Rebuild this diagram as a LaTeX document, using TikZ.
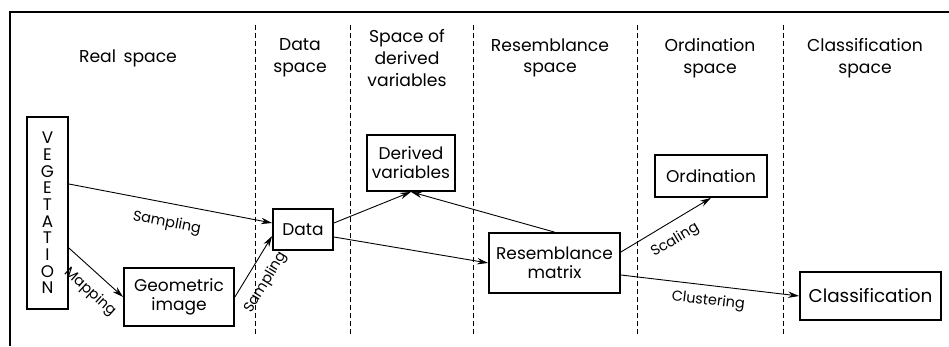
\documentclass[tikz,border=0pt]{standalone}
\usepackage{fontspec}
\setmainfont{Poppins}
\usetikzlibrary{arrows.meta,positioning,calc}

\begin{document}
\begin{tikzpicture}[
    x=0.5pt, y=-0.5pt,
    box/.style={rectangle, draw, line width=0.9pt, inner sep=0pt, align=center, font=\fontsize{8.5}{9.6}\selectfont},
    head/.style={align=center, font=\fontsize{8.6}{10.8}\selectfont},
    arrow/.style={-{Stealth[length=5.5pt,width=3.2pt]}, line width=0.45pt},
    lab/.style={font=\fontsize{7.2}{8}\selectfont, sloped, inner sep=1pt},
    sep/.style={dash pattern=on 2.5pt off 1.5pt, line width=0.5pt}
]
\useasboundingbox (0,0) rectangle (949,347);

% frame and column separators
\draw[line width=1pt] (949,12) -- (10,12) -- (10,346);
\foreach \xs in {255,350,473,637,783}
    \draw[sep] (\xs,25) -- (\xs,337);

% column headings
\node[head] (hreal) at (128,58) {Real\, space};
\node[head] (hdata) at (300,58) {Data\\space};
\node[head] (hderiv) at (407,58) {Space of\\derived\\variables};
\node[head] (hres) at (550,58) {Resemblance\\space};
\node[head] (hord) at (710,58) {Ordination\\space};
\node[head] (hclass) at (865,58) {Classification\\space};

% boxes
\node[box, minimum width=20.5pt, minimum height=96pt, font=\fontsize{8.4}{8.33}\selectfont] (veg) at (47.5,213) {V\\E\\G\\E\\T\\A\\T\\I\\O\\N};
\node[box, minimum width=55pt, minimum height=29pt] (geo) at (179,297) {Geometric\\image};
\node[box, minimum width=30pt, minimum height=20.5pt] (data) at (303,229.5) {Data};
\node[box, minimum width=44pt, minimum height=28pt] (deriv) at (411,163) {Derived\\variables};
\node[box, minimum width=65.5pt, minimum height=30pt] (resem) at (554.5,263) {Resemblance\\matrix};
\node[box, minimum width=56pt, minimum height=21pt] (ord) at (711,176) {Ordination};
\node[box, minimum width=70.5pt, minimum height=24pt, font=\fontsize{9.2}{10}\selectfont] (class) at (870.5,296) {Classification};

% connectors
\draw[arrow] ([yshift=14.5pt]veg.east) -- node[lab, below=5pt] {Sampling} ([yshift=3.25pt]data.west);
\draw[arrow] ([yshift=-17.5pt]veg.east) -- node[lab, below=4.5pt, pos=0.62] {Mapping} (geo.west);
\draw[arrow] (geo.east) -- node[lab, below=4.5pt, pos=0.4] {Sampling} ([yshift=-3.25pt]data.west);
\draw[arrow] ([yshift=3.25pt]data.east) -- (deriv.south);
\draw[arrow] (resem.north) -- (deriv.south);
\draw[arrow] ([yshift=-3.75pt]data.east) -- (resem.west);
\draw[arrow] ([yshift=5.5pt]resem.east) -- node[lab, below=4pt] {Scaling} (ord.south);
\draw[arrow] ([yshift=-6pt]resem.east) -- node[lab, below=3pt] {Clustering} (class.west);

\end{tikzpicture}
\end{document}
